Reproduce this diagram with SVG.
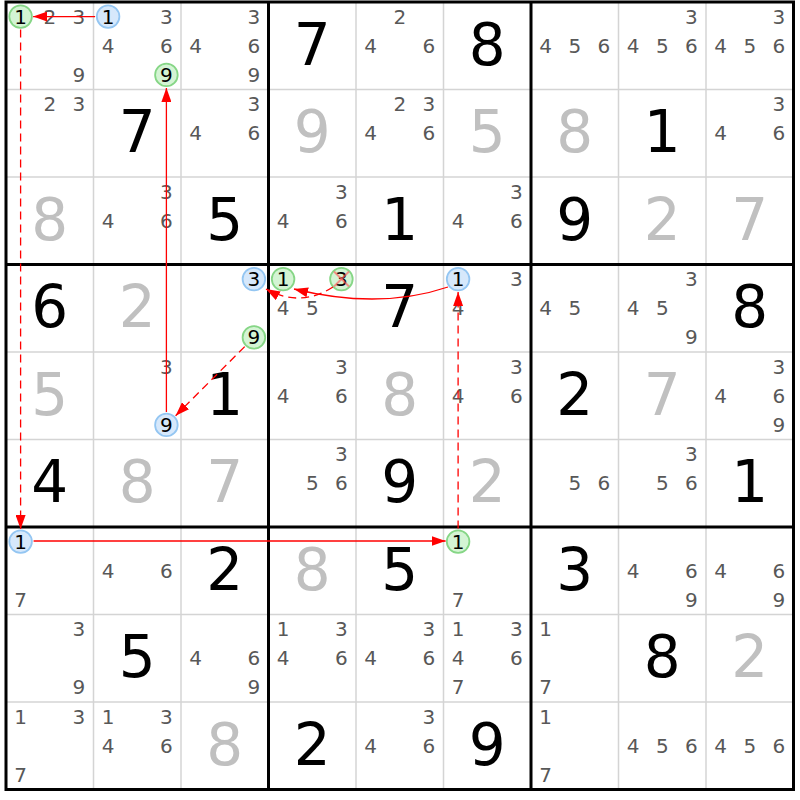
<svg xmlns="http://www.w3.org/2000/svg" width="800" height="800" viewBox="0 0 800 800">
<style>
.thin{stroke:#d4d4d4;stroke-width:1.5}
.thick{stroke:#000;stroke-width:3}
text{font-family:"DejaVu Sans","Liberation Sans",sans-serif;text-anchor:middle}
.c{font-size:20px;fill:#585858}
.b{font-size:58px;fill:#000}
.s{font-size:58px;fill:#c0c0c0}
.hl{font-size:20px;fill:#000}
.gc{fill:#d4f4d4;stroke:#86d686;stroke-width:1.8}
.bc{fill:#d6e8fb;stroke:#94c6f2;stroke-width:1.8}
.ln{fill:none;stroke:#ff0000;stroke-width:1.3}
.dash{stroke-dasharray:8 5}
.x{stroke:#ff5a5a;stroke-width:2;stroke-opacity:0.65}
</style>
<defs>
<marker id="ah" viewBox="0 0 14 10" markerWidth="14" markerHeight="10" refX="14" refY="5" orient="auto" markerUnits="userSpaceOnUse">
<path d="M0,0 L14,5 L0,10 z" fill="#ff0000"/>
</marker>
</defs>
<rect x="0" y="0" width="800" height="800" fill="#fff"/>
<g id="grid">
<line class="thin" x1="93.5" y1="2" x2="93.5" y2="789.5"/>
<line class="thin" x1="181" y1="2" x2="181" y2="789.5"/>
<line class="thin" x1="356" y1="2" x2="356" y2="789.5"/>
<line class="thin" x1="443.5" y1="2" x2="443.5" y2="789.5"/>
<line class="thin" x1="618.5" y1="2" x2="618.5" y2="789.5"/>
<line class="thin" x1="706" y1="2" x2="706" y2="789.5"/>
<line class="thin" x1="6" y1="89.5" x2="793.5" y2="89.5"/>
<line class="thin" x1="6" y1="177" x2="793.5" y2="177"/>
<line class="thin" x1="6" y1="352" x2="793.5" y2="352"/>
<line class="thin" x1="6" y1="439.5" x2="793.5" y2="439.5"/>
<line class="thin" x1="6" y1="614.5" x2="793.5" y2="614.5"/>
<line class="thin" x1="6" y1="702" x2="793.5" y2="702"/>
<line class="thick" x1="268.5" y1="2" x2="268.5" y2="789.5"/>
<line class="thick" x1="531" y1="2" x2="531" y2="789.5"/>
<line class="thick" x1="6" y1="264.5" x2="793.5" y2="264.5"/>
<line class="thick" x1="6" y1="527" x2="793.5" y2="527"/>
<rect class="thick" x="6" y="2" width="787.5" height="787.5" fill="none"/>
</g>
<g id="r1c1"><circle class="gc" cx="20.6" cy="16.6" r="11.3"/><text class="hl" x="20.6" y="23.6">1</text><text class="c" x="49.75" y="23.6">2</text><text class="c" x="78.9" y="23.6">3</text><text class="c" x="78.9" y="81.9">9</text></g>
<g id="r1c2"><circle class="bc" cx="108.1" cy="16.6" r="11.3"/><text class="hl" x="108.1" y="23.6">1</text><text class="c" x="166.4" y="23.6">3</text><text class="c" x="108.1" y="52.75">4</text><text class="c" x="166.4" y="52.75">6</text><circle class="gc" cx="166.4" cy="74.9" r="11.3"/><text class="hl" x="166.4" y="81.9">9</text></g>
<g id="r1c3"><text class="c" x="253.9" y="23.6">3</text><text class="c" x="195.6" y="52.75">4</text><text class="c" x="253.9" y="52.75">6</text><text class="c" x="253.9" y="81.9">9</text></g>
<g id="r1c4"><text class="b" x="312.25" y="64.5">7</text></g>
<g id="r1c5"><text class="c" x="399.75" y="23.6">2</text><text class="c" x="370.6" y="52.75">4</text><text class="c" x="428.9" y="52.75">6</text></g>
<g id="r1c6"><text class="b" x="487.25" y="64.5">8</text></g>
<g id="r1c7"><text class="c" x="545.6" y="52.75">4</text><text class="c" x="574.75" y="52.75">5</text><text class="c" x="603.9" y="52.75">6</text></g>
<g id="r1c8"><text class="c" x="691.4" y="23.6">3</text><text class="c" x="633.1" y="52.75">4</text><text class="c" x="662.25" y="52.75">5</text><text class="c" x="691.4" y="52.75">6</text></g>
<g id="r1c9"><text class="c" x="778.9" y="23.6">3</text><text class="c" x="720.6" y="52.75">4</text><text class="c" x="749.75" y="52.75">5</text><text class="c" x="778.9" y="52.75">6</text></g>

<g id="r2c1"><text class="c" x="49.75" y="111.1">2</text><text class="c" x="78.9" y="111.1">3</text></g>
<g id="r2c2"><text class="b" x="137.25" y="152">7</text></g>
<g id="r2c3"><text class="c" x="253.9" y="111.1">3</text><text class="c" x="195.6" y="140.25">4</text><text class="c" x="253.9" y="140.25">6</text></g>
<g id="r2c4"><text class="s" x="312.25" y="152">9</text></g>
<g id="r2c5"><text class="c" x="399.75" y="111.1">2</text><text class="c" x="428.9" y="111.1">3</text><text class="c" x="370.6" y="140.25">4</text><text class="c" x="428.9" y="140.25">6</text></g>
<g id="r2c6"><text class="s" x="487.25" y="152">5</text></g>
<g id="r2c7"><text class="s" x="574.75" y="152">8</text></g>
<g id="r2c8"><text class="b" x="662.25" y="152">1</text></g>
<g id="r2c9"><text class="c" x="778.9" y="111.1">3</text><text class="c" x="720.6" y="140.25">4</text><text class="c" x="778.9" y="140.25">6</text></g>

<g id="r3c1"><text class="s" x="49.75" y="239.5">8</text></g>
<g id="r3c2"><text class="c" x="166.4" y="198.6">3</text><text class="c" x="108.1" y="227.75">4</text><text class="c" x="166.4" y="227.75">6</text></g>
<g id="r3c3"><text class="b" x="224.75" y="239.5">5</text></g>
<g id="r3c4"><text class="c" x="341.4" y="198.6">3</text><text class="c" x="283.1" y="227.75">4</text><text class="c" x="341.4" y="227.75">6</text></g>
<g id="r3c5"><text class="b" x="399.75" y="239.5">1</text></g>
<g id="r3c6"><text class="c" x="516.4" y="198.6">3</text><text class="c" x="458.1" y="227.75">4</text><text class="c" x="516.4" y="227.75">6</text></g>
<g id="r3c7"><text class="b" x="574.75" y="239.5">9</text></g>
<g id="r3c8"><text class="s" x="662.25" y="239.5">2</text></g>
<g id="r3c9"><text class="s" x="749.75" y="239.5">7</text></g>

<g id="r4c1"><text class="b" x="49.75" y="327">6</text></g>
<g id="r4c2"><text class="s" x="137.25" y="327">2</text></g>
<g id="r4c3"><circle class="bc" cx="253.9" cy="279.1" r="11.3"/><text class="hl" x="253.9" y="286.1">3</text><circle class="gc" cx="253.9" cy="337.4" r="11.3"/><text class="hl" x="253.9" y="344.4">9</text></g>
<g id="r4c4"><circle class="gc" cx="283.1" cy="279.1" r="11.3"/><text class="hl" x="283.1" y="286.1">1</text><circle class="gc" cx="341.4" cy="279.1" r="11.3"/><text class="hl" x="341.4" y="286.1">3</text><line class="x" x1="334" y1="271.5" x2="349" y2="286.5"/><line class="x" x1="349" y1="271.5" x2="334" y2="286.5"/><text class="c" x="283.1" y="315.25">4</text><text class="c" x="312.25" y="315.25">5</text></g>
<g id="r4c5"><text class="b" x="399.75" y="327">7</text></g>
<g id="r4c6"><circle class="bc" cx="458.1" cy="279.1" r="11.3"/><text class="hl" x="458.1" y="286.1">1</text><text class="c" x="516.4" y="286.1">3</text><text class="c" x="458.1" y="315.25">4</text></g>
<g id="r4c7"><text class="c" x="545.6" y="315.25">4</text><text class="c" x="574.75" y="315.25">5</text></g>
<g id="r4c8"><text class="c" x="691.4" y="286.1">3</text><text class="c" x="633.1" y="315.25">4</text><text class="c" x="662.25" y="315.25">5</text><text class="c" x="691.4" y="344.4">9</text></g>
<g id="r4c9"><text class="b" x="749.75" y="327">8</text></g>

<g id="r5c1"><text class="s" x="49.75" y="414.5">5</text></g>
<g id="r5c2"><text class="c" x="166.4" y="373.6">3</text><circle class="bc" cx="166.4" cy="424.9" r="11.3"/><text class="hl" x="166.4" y="431.9">9</text></g>
<g id="r5c3"><text class="b" x="224.75" y="414.5">1</text></g>
<g id="r5c4"><text class="c" x="341.4" y="373.6">3</text><text class="c" x="283.1" y="402.75">4</text><text class="c" x="341.4" y="402.75">6</text></g>
<g id="r5c5"><text class="s" x="399.75" y="414.5">8</text></g>
<g id="r5c6"><text class="c" x="516.4" y="373.6">3</text><text class="c" x="458.1" y="402.75">4</text><text class="c" x="516.4" y="402.75">6</text></g>
<g id="r5c7"><text class="b" x="574.75" y="414.5">2</text></g>
<g id="r5c8"><text class="s" x="662.25" y="414.5">7</text></g>
<g id="r5c9"><text class="c" x="778.9" y="373.6">3</text><text class="c" x="720.6" y="402.75">4</text><text class="c" x="778.9" y="402.75">6</text><text class="c" x="778.9" y="431.9">9</text></g>

<g id="r6c1"><text class="b" x="49.75" y="502">4</text></g>
<g id="r6c2"><text class="s" x="137.25" y="502">8</text></g>
<g id="r6c3"><text class="s" x="224.75" y="502">7</text></g>
<g id="r6c4"><text class="c" x="341.4" y="461.1">3</text><text class="c" x="312.25" y="490.25">5</text><text class="c" x="341.4" y="490.25">6</text></g>
<g id="r6c5"><text class="b" x="399.75" y="502">9</text></g>
<g id="r6c6"><text class="s" x="487.25" y="502">2</text></g>
<g id="r6c7"><text class="c" x="574.75" y="490.25">5</text><text class="c" x="603.9" y="490.25">6</text></g>
<g id="r6c8"><text class="c" x="691.4" y="461.1">3</text><text class="c" x="662.25" y="490.25">5</text><text class="c" x="691.4" y="490.25">6</text></g>
<g id="r6c9"><text class="b" x="749.75" y="502">1</text></g>

<g id="r7c1"><circle class="bc" cx="20.6" cy="541.6" r="11.3"/><text class="hl" x="20.6" y="548.6">1</text><text class="c" x="20.6" y="606.9">7</text></g>
<g id="r7c2"><text class="c" x="108.1" y="577.75">4</text><text class="c" x="166.4" y="577.75">6</text></g>
<g id="r7c3"><text class="b" x="224.75" y="589.5">2</text></g>
<g id="r7c4"><text class="s" x="312.25" y="589.5">8</text></g>
<g id="r7c5"><text class="b" x="399.75" y="589.5">5</text></g>
<g id="r7c6"><circle class="gc" cx="458.1" cy="541.6" r="11.3"/><text class="hl" x="458.1" y="548.6">1</text><text class="c" x="458.1" y="606.9">7</text></g>
<g id="r7c7"><text class="b" x="574.75" y="589.5">3</text></g>
<g id="r7c8"><text class="c" x="633.1" y="577.75">4</text><text class="c" x="691.4" y="577.75">6</text><text class="c" x="691.4" y="606.9">9</text></g>
<g id="r7c9"><text class="c" x="720.6" y="577.75">4</text><text class="c" x="778.9" y="577.75">6</text><text class="c" x="778.9" y="606.9">9</text></g>

<g id="r8c1"><text class="c" x="78.9" y="636.1">3</text><text class="c" x="78.9" y="694.4">9</text></g>
<g id="r8c2"><text class="b" x="137.25" y="677">5</text></g>
<g id="r8c3"><text class="c" x="195.6" y="665.25">4</text><text class="c" x="253.9" y="665.25">6</text><text class="c" x="253.9" y="694.4">9</text></g>
<g id="r8c4"><text class="c" x="283.1" y="636.1">1</text><text class="c" x="341.4" y="636.1">3</text><text class="c" x="283.1" y="665.25">4</text><text class="c" x="341.4" y="665.25">6</text></g>
<g id="r8c5"><text class="c" x="428.9" y="636.1">3</text><text class="c" x="370.6" y="665.25">4</text><text class="c" x="428.9" y="665.25">6</text></g>
<g id="r8c6"><text class="c" x="458.1" y="636.1">1</text><text class="c" x="516.4" y="636.1">3</text><text class="c" x="458.1" y="665.25">4</text><text class="c" x="516.4" y="665.25">6</text><text class="c" x="458.1" y="694.4">7</text></g>
<g id="r8c7"><text class="c" x="545.6" y="636.1">1</text><text class="c" x="545.6" y="694.4">7</text></g>
<g id="r8c8"><text class="b" x="662.25" y="677">8</text></g>
<g id="r8c9"><text class="s" x="749.75" y="677">2</text></g>

<g id="r9c1"><text class="c" x="20.6" y="723.6">1</text><text class="c" x="78.9" y="723.6">3</text><text class="c" x="20.6" y="781.9">7</text></g>
<g id="r9c2"><text class="c" x="108.1" y="723.6">1</text><text class="c" x="166.4" y="723.6">3</text><text class="c" x="108.1" y="752.75">4</text><text class="c" x="166.4" y="752.75">6</text></g>
<g id="r9c3"><text class="s" x="224.75" y="764.5">8</text></g>
<g id="r9c4"><text class="b" x="312.25" y="764.5">2</text></g>
<g id="r9c5"><text class="c" x="428.9" y="723.6">3</text><text class="c" x="370.6" y="752.75">4</text><text class="c" x="428.9" y="752.75">6</text></g>
<g id="r9c6"><text class="b" x="487.25" y="764.5">9</text></g>
<g id="r9c7"><text class="c" x="545.6" y="723.6">1</text><text class="c" x="545.6" y="781.9">7</text></g>
<g id="r9c8"><text class="c" x="633.1" y="752.75">4</text><text class="c" x="662.25" y="752.75">5</text><text class="c" x="691.4" y="752.75">6</text></g>
<g id="r9c9"><text class="c" x="720.6" y="752.75">4</text><text class="c" x="749.75" y="752.75">5</text><text class="c" x="778.9" y="752.75">6</text></g>

<g id="connectors">
<path class="ln dash" d="M244.7,346.6 L175.6,415.7" marker-end="url(#ah)"/>
<path class="ln" d="M166.4,411.9 L166.4,87.9" marker-end="url(#ah)"/>
<path class="ln" d="M95.1,16.6 L33.1,16.6" marker-end="url(#ah)"/>
<path class="ln dash" d="M20.6,29.6 L20.6,529.1" marker-end="url(#ah)"/>
<path class="ln" d="M33.6,541 L445.6,541" marker-end="url(#ah)"/>
<path class="ln dash" d="M458.1,528.6 L458.1,292.1" marker-end="url(#ah)"/>
<path class="ln" d="M448,287 Q380,310 294,289" marker-end="url(#ah)"/>
<path class="ln dash" d="M333,287 Q300,308 266,289" marker-end="url(#ah)"/>
</g>
</svg>
